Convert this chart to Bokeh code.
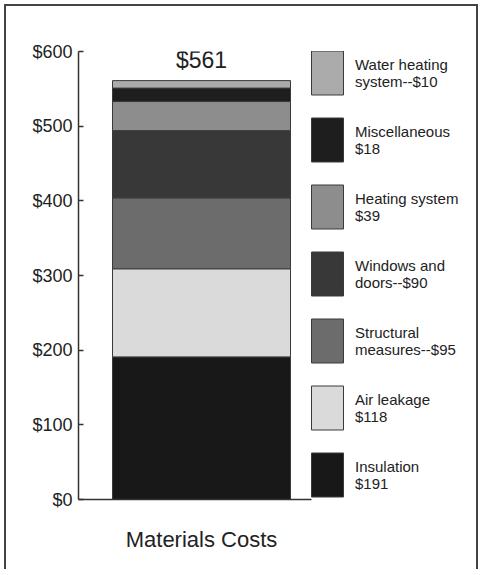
from bokeh.plotting import figure
from bokeh.models import Range1d, FixedTicker, Legend, LegendItem, Label
from bokeh.embed import file_html
from bokeh.resources import INLINE

# ---- data ----
categories = ["Insulation", "Air leakage", "Structural measures", "Windows and doors",
              "Heating system", "Miscellaneous", "Water heating system"]
values = [191, 118, 95, 90, 39, 18, 10]
legend_labels = ["Insulation\n$191", "Air leakage\n$118", "Structural\nmeasures--$95",
                 "Windows and\ndoors--$90", "Heating system\n$39", "Miscellaneous\n$18",
                 "Water heating\nsystem--$10"]
colors = ["#181818", "#dadada", "#6c6c6c", "#383838", "#8d8d8d", "#1e1e1e", "#ababab"]
y_ticks = [0, 100, 200, 300, 400, 500, 600]
y_tick_labels = ["$0", "$100", "$200", "$300", "$400", "$500", "$600"]
x_label = "Materials Costs"

FONT = "Liberation Sans"
TXT = "#222222"

W, H = 474, 565
OFF = 6  # canvas offset caused by margin + border
PX = 178.0  # pixels per x unit (bar width = 1 unit)
frame_left = 78 - OFF
frame_right = 470 - OFF
x_start = -123 / PX
x_end = x_start + (frame_right - frame_left) / PX
axis_end = x_start + 233 / PX

p = figure(width=W, height=H, output_backend="svg", toolbar_location=None,
           x_range=Range1d(x_start, x_end), y_range=Range1d(0, 600),
           min_border_left=frame_left, min_border_right=W - frame_right,
           min_border_top=51 - OFF, min_border_bottom=H - (499 - OFF))
p.styles = {"border-left": "2px solid #444", "border-top": "2px solid #444",
            "border-right": "2px solid #444", "margin-left": "4px", "margin-top": "4px"}
p.outline_line_color = None
p.grid.grid_line_color = None
p.background_fill_color = "white"
p.border_fill_color = "white"

# stacked bar
bottoms = []
acc = 0
for v in values:
    bottoms.append(acc)
    acc += v
tops = [b + v for b, v in zip(bottoms, values)]
renderers = []
for i in range(len(values)):
    r = p.vbar(x=[0], bottom=[bottoms[i]], top=[tops[i]], width=1.0,
               fill_color=colors[i], line_color="#3a3a3a", line_width=1)
    renderers.append(r)

total = sum(values)
p.add_layout(Label(x=0, y=total, text=f"${total}", text_align="center",
                   text_baseline="middle", y_offset=21, text_font=FONT,
                   text_font_size="23px", text_color=TXT))

# axes
yax = p.yaxis[0]
yax.ticker = FixedTicker(ticks=y_ticks)
yax.major_label_overrides = {t: l for t, l in zip(y_ticks, y_tick_labels)}
yax.minor_tick_line_color = None
yax.major_tick_in = 5
yax.major_tick_out = 0
yax.major_label_standoff = 6
yax.major_label_text_font = FONT
yax.major_label_text_font_size = "18px"
yax.major_label_text_color = TXT
yax.axis_line_color = "#333333"
yax.axis_line_width = 1.5
yax.major_tick_line_color = "#333333"
yax.major_tick_line_width = 1.5

xax = p.xaxis[0]
xax.bounds = (x_start, axis_end)
xax.ticker = FixedTicker(ticks=[0])
xax.major_label_overrides = {0: x_label}
xax.major_tick_line_color = None
xax.minor_tick_line_color = None
xax.axis_line_color = "#333333"
xax.axis_line_width = 1.5
xax.major_label_text_font = FONT
xax.major_label_text_font_size = "22px"
xax.major_label_text_color = TXT
xax.major_label_standoff = 21

# legend (top item = last stacked segment); area glyphs are drawn at 80% of the slot
items = [LegendItem(label=legend_labels[i], renderers=[renderers[i]])
         for i in reversed(range(len(values)))]
legend = Legend(items=items, location=(229, -3), padding=0, margin=0,
                glyph_width=40, glyph_height=55, spacing=12, label_standoff=8,
                label_text_font=FONT, label_text_font_size="15px",
                label_text_color=TXT, border_line_color=None,
                background_fill_alpha=0)
p.add_layout(legend)

open("out.html", "w").write(file_html(p, INLINE))
